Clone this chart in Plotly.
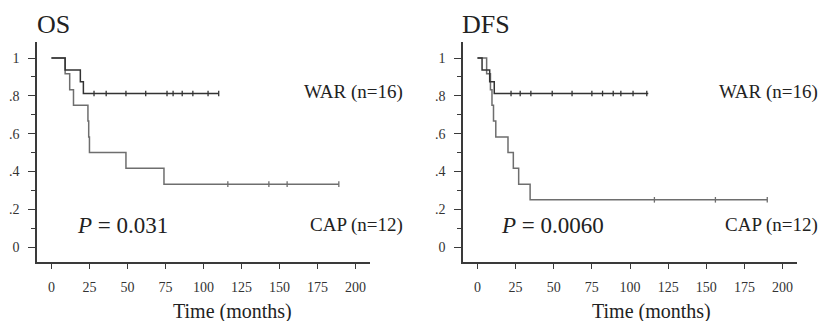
import plotly.graph_objects as go

# ---- data ----
os_war_t = [0, 9, 19, 21, 110]
os_war_s = [1, 0.9375, 0.875, 0.8125, 0.8125]
os_war_cens = [28, 36, 49, 62, 76, 80, 86, 93, 103, 110]

os_cap_t = [0, 9, 12, 14.5, 24, 24.5, 25, 49, 74, 189]
os_cap_s = [1, 0.917, 0.833, 0.75, 0.667, 0.583, 0.5, 0.417, 0.333, 0.333]
os_cap_cens = [116, 143, 155, 189]

dfs_war_t = [0, 3, 8, 11, 112]
dfs_war_s = [1, 0.9375, 0.875, 0.8125, 0.8125]
dfs_war_cens = [22, 28, 35, 49, 62, 75, 82, 89, 94, 102, 111]

dfs_cap_t = [0, 6, 8.5, 9.5, 10.5, 12, 20, 23.5, 27, 34.5, 190]
dfs_cap_s = [1, 0.917, 0.833, 0.75, 0.667, 0.583, 0.5, 0.417, 0.333, 0.25, 0.25]
dfs_cap_cens = [116, 156, 190]

x_ticks = [0, 25, 50, 75, 100, 125, 150, 175, 200]
y_ticks = [0, 0.2, 0.4, 0.6, 0.8, 1]
y_ticktext = ["0", ".2", ".4", ".6", ".8", "1"]

W, H = 828, 321
SERIF = "Liberation Serif"
WAR_COL = "#333333"
CAP_COL = "#6e6e6e"
AX_COL = "#3a3a3a"


def surv_at(ts, ss, t):
    v = ss[0]
    for ti, si in zip(ts, ss):
        if ti <= t:
            v = si
    return v


fig = go.Figure()

panels = [
    ("x", "y", os_war_t, os_war_s, os_war_cens, os_cap_t, os_cap_s, os_cap_cens),
    ("x2", "y2", dfs_war_t, dfs_war_s, dfs_war_cens, dfs_cap_t, dfs_cap_s, dfs_cap_cens),
]

for xa, ya, wt, ws, wc, ct, cs, cc in panels:
    for t, s, c, col in [(ct, cs, cc, CAP_COL), (wt, ws, wc, WAR_COL)]:
        fig.add_trace(go.Scatter(x=t, y=s, mode="lines", line=dict(shape="hv", color=col, width=1.5),
                                 xaxis=xa, yaxis=ya, showlegend=False, hoverinfo="skip"))
        fig.add_trace(go.Scatter(x=c, y=[surv_at(t, s, v) for v in c], mode="markers",
                                 marker=dict(symbol="line-ns-open", size=4, color=col,
                                             line=dict(color=col, width=1.3)),
                                 xaxis=xa, yaxis=ya, showlegend=False, hoverinfo="skip"))

xrange = [-9.5, 209.5]
yrange = [-0.079, 1.085]
ydom = [1 - 262 / H, 1 - 42 / H]

common_x = dict(range=xrange, tickvals=x_ticks, ticks="outside", ticklen=5, tickwidth=1.3,
                tickcolor=AX_COL, showline=True, linecolor=AX_COL, linewidth=1.6, showgrid=False,
                zeroline=False, ticklabelstandoff=6,
                tickfont=dict(family=SERIF, size=14, color="#333"))
common_y = dict(range=yrange, tickvals=y_ticks, ticktext=y_ticktext, ticks="outside", ticklen=7,
                tickwidth=1.3, tickcolor=AX_COL, showline=True, linecolor=AX_COL, linewidth=1.6,
                showgrid=False, zeroline=False, domain=ydom, ticklabelstandoff=6,
                tickfont=dict(family=SERIF, size=14, color="#333"),
                minor=dict(dtick=0.1, ticklen=4, tickcolor=AX_COL, tickwidth=1, showgrid=False))

fig.update_layout(
    width=W, height=H, margin=dict(l=0, r=0, t=0, b=0),
    paper_bgcolor="white", plot_bgcolor="white",
    xaxis=dict(domain=[37 / W, 370 / W], anchor="y", **common_x),
    yaxis=dict(anchor="x", **common_y),
    xaxis2=dict(domain=[463 / W, 797 / W], anchor="y2", **common_x),
    yaxis2=dict(anchor="x2", **common_y),
)


def ann(text, xpx, ypx, size, xanchor="left"):
    fig.add_annotation(text=text, x=xpx / W, y=1 - ypx / H, xref="paper", yref="paper",
                       xanchor=xanchor, yanchor="middle", showarrow=False,
                       font=dict(family=SERIF, size=size, color="#222"))


ann("OS", 35, 24, 26)
ann("DFS", 460, 24, 26)
ann("WAR (n=16)", 405, 92, 19, "right")
ann("CAP (n=12)", 405, 225, 19, "right")
ann("WAR (n=16)", 820, 92, 19, "right")
ann("CAP (n=12)", 820, 225, 19, "right")
ann("<i>P</i> = 0.031", 75, 225, 23)
ann("<i>P</i> = 0.0060", 499, 225, 23)
ann("Time (months)", 233, 311, 20, "center")
ann("Time (months)", 651, 311, 20, "center")

fig.write_html("out.html", config={"displayModeBar": False},
               post_script="document.body.style.margin='0px';")
